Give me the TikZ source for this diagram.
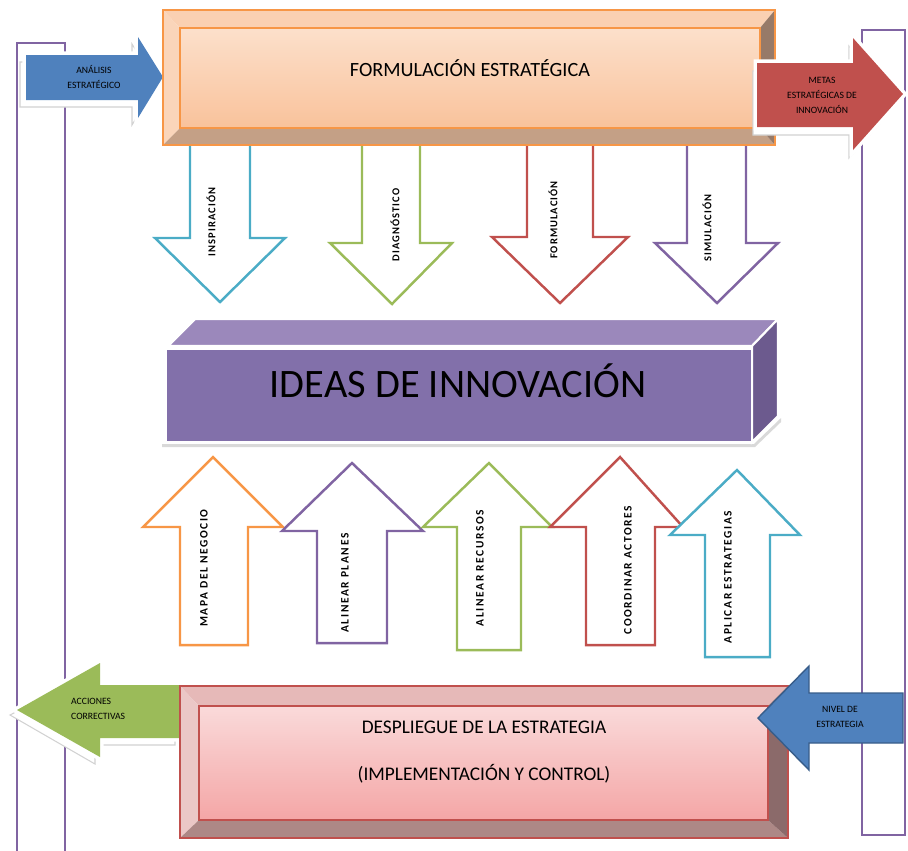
\documentclass[tikz,border=0pt]{standalone}
\usepackage{fontspec}
\setmainfont{Carlito}
\definecolor{OrangeClr}{HTML}{F79646}
\definecolor{BlueClr}{HTML}{4F81BD}
\definecolor{BlueEdgeClr}{HTML}{385D8A}
\definecolor{RedClr}{HTML}{C0504D}
\definecolor{GreenClr}{HTML}{9BBB59}
\definecolor{PurpleClr}{HTML}{8064A2}
\definecolor{CyanClr}{HTML}{4BACC6}
\definecolor{PeachTopClr}{HTML}{FCE0CB}
\definecolor{PeachBotClr}{HTML}{F9C29B}
\definecolor{PeachRimClr}{HTML}{FAD0B2}
\definecolor{PeachLowClr}{HTML}{C4A086}
\definecolor{PeachDarkClr}{HTML}{977A68}
\definecolor{PinkTopClr}{HTML}{FADADA}
\definecolor{PinkBotClr}{HTML}{F4A6A6}
\definecolor{PinkRimClr}{HTML}{E6B9B8}
\definecolor{PinkLowClr}{HTML}{AD8886}
\definecolor{PinkDarkClr}{HTML}{8B6A6A}
\definecolor{IdeaTopClr}{HTML}{9B88BB}
\definecolor{IdeaFrontClr}{HTML}{8270AA}
\definecolor{IdeaSideClr}{HTML}{6C5A8E}

\begin{document}
\begin{tikzpicture}[x=0.02cm,y=-0.02cm,
  frameline/.style={draw=PurpleClr,line width=1.2pt},
  outarrow/.style={fill=white,line width=1.4pt},
  ghost/.style={draw=gray!35,line width=0.6pt,fill=white},
  halo/.style={draw=white,line width=4pt,fill=white},
  smalltxt/.style={font=\fontsize{5.5}{8.5}\selectfont,align=center,text=black},
  vlabel/.style={rotate=90,font=\fontsize{6}{7}\selectfont\bfseries\addfontfeature{LetterSpace=10}},
  uplabel/.style={rotate=90,font=\fontsize{6.5}{7}\selectfont\bfseries\addfontfeature{LetterSpace=14}},
  rimline/.style={line width=0.9pt}]
\useasboundingbox (0,0) rectangle (908,850);

\draw[frameline] (17,851) -- (17,43) -- (65,43) -- (65,851);
\draw[frameline] (862,30) rectangle (905,835);

\draw[outarrow,draw=CyanClr] (190,140) -- (250,140) -- (250,238) -- (285,238) -- (220,302) -- (155,238) -- (190,238) -- cycle;
\draw[outarrow,draw=GreenClr] (362,140) -- (420,140) -- (420,243) -- (452,243) -- (392,304) -- (330,243) -- (362,243) -- cycle;
\draw[outarrow,draw=RedClr] (527,140) -- (593,140) -- (593,237) -- (628,237) -- (560,303) -- (492,237) -- (527,237) -- cycle;
\draw[outarrow,draw=PurpleClr] (687,140) -- (746,140) -- (746,243) -- (778,243) -- (717,303) -- (655,243) -- (687,243) -- cycle;

\node[vlabel] (inspiracion) at (211,222) {INSPIRACIÓN};
\node[vlabel] (diagnostico) at (395,225) {DIAGNÓSTICO};
\node[vlabel] (formulacion) at (553,220) {FORMULACIÓN};
\node[vlabel] (simulacion) at (707,228) {SIMULACIÓN};

\draw[ghost] (20,62) -- (132,62) -- (132,44) -- (157,84) -- (132,125) -- (132,107) -- (20,107) -- cycle;
\draw[halo] (26,55) -- (138,55) -- (138,37) -- (163,77) -- (138,118) -- (138,100) -- (26,100) -- cycle;
\fill[BlueClr] (26,55) -- (138,55) -- (138,37) -- (163,77) -- (138,118) -- (138,100) -- (26,100) -- cycle;
\node[smalltxt] (analisis) at (94,77) {ANÁLISIS\\ESTRATÉGICO};

\fill[PeachRimClr] (163,10) -- (775,10) -- (760,28) -- (180,28) -- cycle;
\fill[PeachRimClr!90!white] (163,10) -- (180,28) -- (180,128) -- (163,145) -- cycle;
\fill[PeachLowClr] (163,145) -- (180,128) -- (760,128) -- (775,145) -- cycle;
\fill[PeachDarkClr] (775,10) -- (775,145) -- (760,128) -- (760,28) -- cycle;
\shade[top color=PeachTopClr,bottom color=PeachBotClr] (180,28) rectangle (760,128);
\draw[OrangeClr,rimline] (163,10) rectangle (775,145);
\draw[OrangeClr,rimline] (180,28) rectangle (760,128);
\node[font=\fontsize{11.5}{13}\selectfont] (formulacionbox) at (470,68) {FORMULACIÓN ESTRATÉGICA};

\draw[ghost] (753,71) -- (849,71) -- (849,46) -- (899,102) -- (849,158) -- (849,135) -- (753,135) -- cycle;
\draw[halo] (757,63) -- (853,63) -- (853,38) -- (903,94) -- (853,150) -- (853,127) -- (757,127) -- cycle;
\fill[RedClr] (757,63) -- (853,63) -- (853,38) -- (903,94) -- (853,150) -- (853,127) -- (757,127) -- cycle;
\node[smalltxt] (metas) at (822,95) {METAS\\ESTRATÉGICAS DE\\INNOVACIÓN};

\fill[gray!30] (162,444) -- (754,444) -- (781,418) -- (781,422) -- (755,447) -- (162,447) -- cycle;
\filldraw[fill=IdeaTopClr,draw=white,line width=1.2pt] (168,346) -- (195,319) -- (778,319) -- (752,346) -- cycle;
\filldraw[fill=IdeaSideClr,draw=white,line width=1.2pt] (752,346) -- (778,319) -- (778,416) -- (752,442) -- cycle;
\filldraw[fill=IdeaFrontClr,draw=white,line width=1.2pt] (166,349) rectangle (752,442);
\node[font=\fontsize{23}{25}\selectfont] (ideas) at (458,381) {IDEAS DE INNOVACIÓN};

\draw[outarrow,draw=OrangeClr] (180,645) -- (248,645) -- (248,527) -- (283,527) -- (213,457) -- (143,527) -- (180,527) -- cycle;
\draw[outarrow,draw=PurpleClr] (317,643) -- (387,643) -- (387,531) -- (423,531) -- (352,463) -- (282,531) -- (317,531) -- cycle;
\draw[outarrow,draw=GreenClr] (457,650) -- (521,650) -- (521,527) -- (552,527) -- (489,463) -- (423,527) -- (457,527) -- cycle;
\draw[outarrow,draw=RedClr] (586,645) -- (655,645) -- (655,527) -- (683,527) -- (620,457) -- (550,527) -- (586,527) -- cycle;
\draw[outarrow,draw=CyanClr] (705,657) -- (770,657) -- (770,535) -- (800,535) -- (737,470) -- (670,535) -- (705,535) -- cycle;

\node[uplabel] (mapa) at (204,568) {MAPA DEL NEGOCIO};
\node[uplabel] (planes) at (345,583) {ALINEAR PLANES};
\node[uplabel] (recursos) at (480,568) {ALINEAR RECURSOS};
\node[uplabel] (actores) at (628,570) {COORDINAR ACTORES};
\node[uplabel] (estrategias) at (728,577) {APLICAR ESTRATEGIAS};

\draw[ghost] (175,692) -- (95,692) -- (95,670) -- (10,715) -- (95,764) -- (95,745) -- (175,745) -- cycle;
\draw[halo] (180,685) -- (100,685) -- (100,663) -- (17,710) -- (100,757) -- (100,738) -- (180,738) -- cycle;
\fill[GreenClr] (180,685) -- (100,685) -- (100,663) -- (17,710) -- (100,757) -- (100,738) -- (180,738) -- cycle;
\node[smalltxt,align=left,anchor=west] (acciones) at (65,709) {ACCIONES\\CORRECTIVAS};

\fill[PinkRimClr] (180,686) -- (788,686) -- (768,706) -- (199,706) -- cycle;
\fill[PinkRimClr!80!white] (180,686) -- (199,706) -- (199,820) -- (180,838) -- cycle;
\fill[PinkLowClr] (180,838) -- (199,820) -- (768,820) -- (788,838) -- cycle;
\fill[PinkDarkClr] (788,686) -- (788,838) -- (768,820) -- (768,706) -- cycle;
\shade[top color=PinkTopClr,bottom color=PinkBotClr] (199,706) rectangle (768,820);
\draw[RedClr,rimline] (180,686) rectangle (788,838);
\draw[RedClr,rimline] (199,706) rectangle (768,820);
\node[font=\fontsize{11}{13}\selectfont] (despliegue) at (484,727) {DESPLIEGUE DE LA ESTRATEGIA};
\node[font=\fontsize{11}{13}\selectfont] (implementacion) at (484,774) {(IMPLEMENTACIÓN Y CONTROL)};

\filldraw[fill=BlueClr,draw=BlueEdgeClr,line width=0.8pt] (903,693) -- (809,693) -- (809,666) -- (758,718) -- (809,770) -- (809,743) -- (903,743) -- cycle;
\node[smalltxt] (nivel) at (840,717) {NIVEL DE\\ESTRATEGIA};

\end{tikzpicture}
\end{document}
